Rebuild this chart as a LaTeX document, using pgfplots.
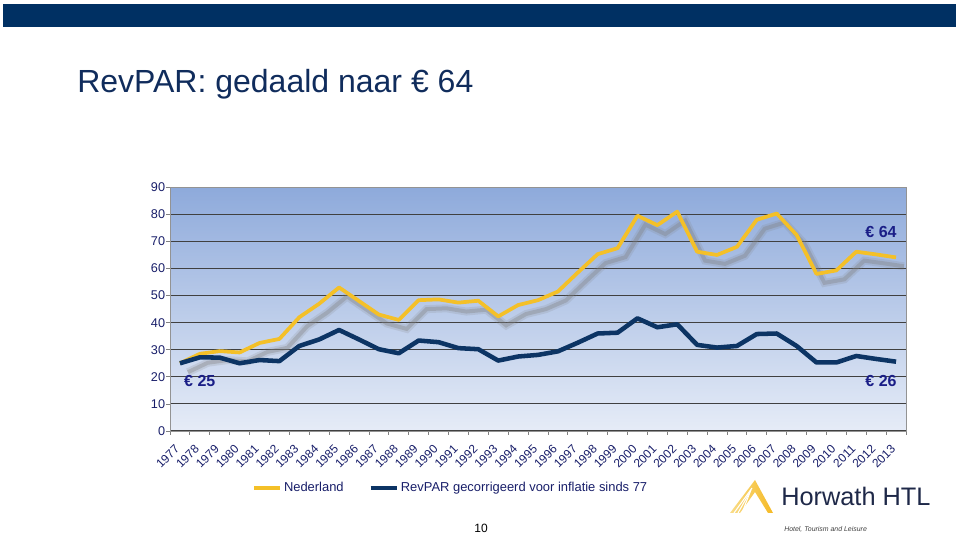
\documentclass[border=0pt]{standalone}
\usepackage{fontspec}
\setmainfont{Liberation Sans}
\usepackage{pgfplots}
\pgfplotsset{compat=1.18}
\definecolor{navybar}{RGB}{0,48,99}
\definecolor{titleblue}{RGB}{16,44,92}
\definecolor{labblue}{RGB}{24,30,105}
\definecolor{annblue}{RGB}{26,30,135}
\definecolor{goldline}{RGB}{244,192,40}
\definecolor{darkline}{RGB}{12,52,100}
\definecolor{bgtop}{RGB}{142,170,219}
\definecolor{bgbot}{RGB}{230,236,247}
\definecolor{logoblue}{RGB}{30,40,72}
\pgfplotstableread{
x y
0 25
1 28.5
2 29.5
3 29
4 32.5
5 34
6 42
7 47
8 53
9 48
10 43
11 41
12 48.3
13 48.6
14 47.4
15 48.1
16 42.3
17 46.5
18 48.3
19 51.5
20 58.5
21 65.3
22 67.5
23 79.5
24 76
25 81
26 66.2
27 65
28 68
29 78
30 80.3
31 72.4
32 58
33 59.3
34 66.2
35 65.2
36 64.1
}\nederland
\pgfplotstableread{
x y
0 25
1 27.2
2 27.1
3 25
4 26.2
5 25.8
6 31.4
7 33.8
8 37.3
9 33.8
10 30.2
11 28.7
12 33.4
13 32.8
14 30.6
15 30.2
16 26
17 27.5
18 28.1
19 29.4
20 32.6
21 36
22 36.3
23 41.6
24 38.3
25 39.4
26 31.8
27 30.8
28 31.4
29 35.8
30 36
31 31.4
32 25.3
33 25.3
34 27.7
35 26.6
36 25.6
}\gecorrigeerd
\begin{document}
\begin{tikzpicture}[x=0.75pt,y=0.75pt]
\path[use as bounding box] (0,0) rectangle (960,534);
\fill[navybar] (3,507) rectangle (956,530);
\node[anchor=base west, inner sep=0, font=\fontsize{24}{28}\selectfont, text=titleblue] at (77,441) {RevPAR: gedaald naar € 64};
\begin{axis}[
  at={(127.5pt,77.25pt)}, anchor=south west,
  scale only axis, width=552pt, height=182.8pt,
  xmin=-0.5, xmax=36.5, ymin=0, ymax=90,
  ytick={0,10,...,90},
  xtick={0,...,36},
  xticklabels={1977,1978,1979,1980,1981,1982,1983,1984,1985,1986,1987,1988,1989,1990,1991,1992,1993,1994,1995,1996,1997,1998,1999,2000,2001,2002,2003,2004,2005,2006,2007,2008,2009,2010,2011,2012,2013},
  x tick style={draw=none},
  minor xtick={-0.5,0.5,...,36.5},
  minor x tick style={draw=gray, line width=0.6pt},
  y tick style={draw=gray, line width=0.6pt},
  tick align=outside, tick pos=left,
  major tick length=3pt, minor tick length=3pt,
  ymajorgrids,
  major grid style={black!75, line width=0.8pt},
  axis line style={draw=gray!85, line width=0.7pt},
  axis background/.style={top color=bgtop, bottom color=bgbot},
  /pgf/number format/assume math mode=true,
  yticklabel style={font=\fontsize{9.5}{11}\selectfont, text=labblue, inner sep=0pt, xshift=-0.5pt},
  xticklabel style={xshift=-2pt, yshift=-9pt, rotate=45, anchor=east, inner sep=0pt, font=\fontsize{9}{10}\selectfont, text=labblue},
  legend style={at={(0.106,-0.234)}, anchor=west, draw=none, fill=none,
    legend columns=2, font=\fontsize{9.7}{11}\selectfont, text=labblue,
    nodes={inner sep=1.5pt},
    /tikz/every even column/.append style={column sep=17pt}},
  legend image code/.code={\draw[#1] (0pt,0pt) -- (19.5pt,0pt);},
]
% soft shadow of the Nederland series
\addplot[gray, opacity=0.18, line width=6pt, forget plot,
  x filter/.expression={x+0.4}, y filter/.expression={y-3.3}] table[x=x,y=y] {\nederland};
\addplot[gray, opacity=0.35, line width=3pt, forget plot,
  x filter/.expression={x+0.4}, y filter/.expression={y-3.3}] table[x=x,y=y] {\nederland};
\addplot[goldline, line width=2.8pt, line join=round] table[x=x,y=y] {\nederland};
\addlegendentry{Nederland}
\addplot[darkline, line width=3.4pt, line join=round] table[x=x,y=y] {\gecorrigeerd};
\addlegendentry{RevPAR gecorrigeerd voor inflatie sinds 77}
\node[anchor=west, inner sep=0, font=\bfseries\fontsize{12}{14}\selectfont, text=annblue] at (axis cs:0.2,18.6) {€ 25};
\node[anchor=east, inner sep=0, font=\bfseries\fontsize{12}{14}\selectfont, text=annblue] at (axis cs:36.04,73.6) {€ 64};
\node[anchor=east, inner sep=0, font=\bfseries\fontsize{12}{14}\selectfont, text=annblue] at (axis cs:36.04,18.5) {€ 26};
\end{axis}
% page number
\node[font=\fontsize{9}{10}\selectfont] at (481,6) {10};
% logo
\shade[left color=goldline!55!white, right color=goldline!90!orange] (730,21) -- (755,54) -- (773,21) -- (768,21) -- (755,42) -- (740,21) -- cycle;
\foreach \d in {0,4,8} {\draw[white, line width=0.8pt] (734+\d,21) -- (752-\d*0.2,46-\d*0.4);}
\node[anchor=base west, inner sep=0, font=\fontsize{19}{22}\selectfont, text=logoblue] at (781,28) {Horwath HTL};
\node[anchor=base west, inner sep=0, font=\itshape\fontsize{5.2}{6}\selectfont, text=black!75] at (784,2.5) {Hotel, Tourism and Leisure};
\end{tikzpicture}
\end{document}
